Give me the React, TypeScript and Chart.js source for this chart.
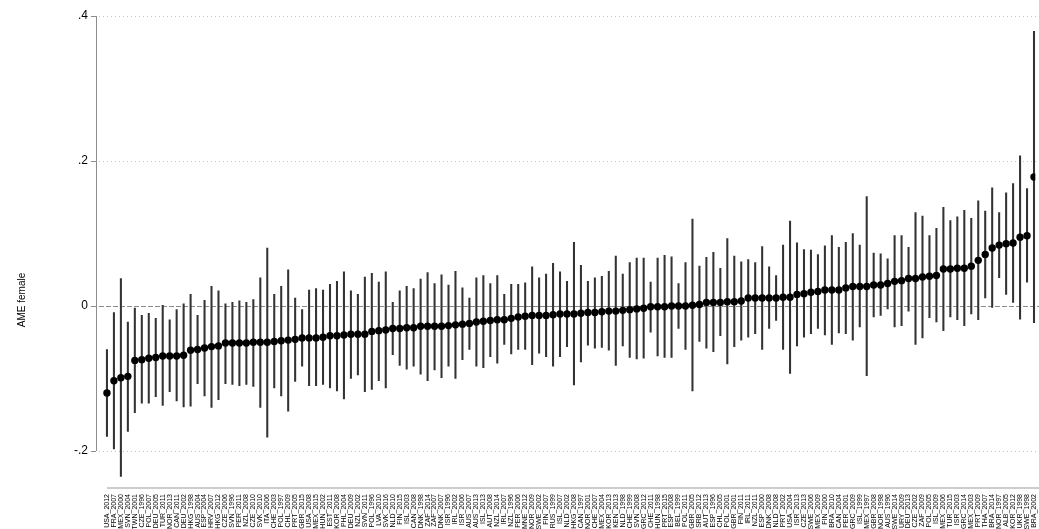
import React, { useEffect, useRef } from 'react';
import { Chart, registerables } from 'chart.js';

Chart.register(...registerables);

const labels: string[] = [
  'USA_2012', 'FRA_2007', 'MEX_2000', 'SVN_2004', 'TWN_2001', 'CZE_1996', 'POL_2007', 'DEU_2005', 'TUR_2011', 'NOR_2013',
  'CAN_2011', 'DEU_2002', 'HKG_1998', 'AUS_2004', 'ESP_2004', 'HRV_2007', 'HKG_2012', 'CZE_2006', 'SVN_1996', 'PER_2011',
  'NZL_2008', 'CZE_2010', 'SVK_2010', 'ITA_2006', 'CHE_2003', 'POL_1997', 'CHL_2009', 'PRT_2005', 'GBR_2015', 'USA_2008',
  'MEX_2015', 'HUN_2002', 'EST_2011', 'KOR_2008', 'PHL_2004', 'DEU_2009', 'NZL_2002', 'SVN_2011', 'POL_1996', 'LVA_2010',
  'SVK_2016', 'NLD_2010', 'FIN_2015', 'ISL_2003', 'CAN_2008', 'DNK_1998', 'ZAF_2014', 'ZAF_2007', 'DNK_2007', 'ISR_1996',
  'IRL_2002', 'ISR_2006', 'AUS_2007', 'AUS_2013', 'ISL_2013', 'AUT_2008', 'NZL_2014', 'IRL_2007', 'NZL_1996', 'PER_2006',
  'MNE_2012', 'NOR_2009', 'SWE_2002', 'FIN_2007', 'RUS_1999', 'ISL_2007', 'NLD_2002', 'HKG_2008', 'CAN_1997', 'NOR_2001',
  'CHE_2007', 'MEX_2004', 'KOR_2013', 'KEN_2013', 'NLD_1998', 'CHE_1999', 'SVN_2008', 'GRC_2012', 'CHE_2011', 'HUN_1998',
  'PRT_2015', 'ESP_2008', 'BEL_1999', 'POL_2011', 'GBR_2005', 'SRB_2012', 'AUT_2013', 'ESP_1996', 'CHL_2005', 'POL_2001',
  'GBR_2001', 'FIN_2011', 'IRL_2011', 'NZL_2011', 'ESP_2000', 'DNK_2008', 'NLD_2008', 'PRT_2002', 'USA_2004', 'ISR_2013',
  'CZE_2013', 'SWE_2006', 'MEX_2009', 'FIN_2000', 'BRA_2010', 'CAN_2004', 'PER_2001', 'GRC_2009', 'ISL_1999', 'MEX_1997',
  'GBR_2008', 'NOR_1998', 'AUS_1996', 'SWE_2014', 'URY_2009', 'DEU_2013', 'CZE_2002', 'ZAF_2009', 'POL_2005', 'ISL_2009',
  'MEX_2006', 'TUR_2015', 'ISR_2003', 'GRC_2014', 'MEX_2003', 'PRT_2009', 'THA_2007', 'BRA_2014', 'NOR_1997', 'ALB_2005',
  'KOR_2012', 'UKR_1998', 'SWE_1998', 'BRA_2002',
];

const est: number[] = [
  -0.120, -0.103, -0.099, -0.097, -0.075, -0.074, -0.072, -0.071, -0.069, -0.069,
  -0.069, -0.068, -0.061, -0.060, -0.058, -0.056, -0.055, -0.051, -0.051, -0.051,
  -0.051, -0.050, -0.050, -0.050, -0.049, -0.048, -0.047, -0.046, -0.044, -0.044,
  -0.044, -0.043, -0.041, -0.041, -0.040, -0.039, -0.039, -0.039, -0.035, -0.034,
  -0.033, -0.031, -0.031, -0.030, -0.030, -0.028, -0.028, -0.028, -0.028, -0.027,
  -0.026, -0.025, -0.024, -0.022, -0.021, -0.020, -0.019, -0.019, -0.017, -0.015,
  -0.014, -0.013, -0.013, -0.013, -0.012, -0.011, -0.011, -0.011, -0.010, -0.009,
  -0.009, -0.008, -0.007, -0.007, -0.006, -0.005, -0.004, -0.003, -0.001, -0.001,
  -0.001, 0.000, 0.000, 0.000, 0.001, 0.002, 0.005, 0.005, 0.005, 0.006,
  0.006, 0.007, 0.011, 0.011, 0.011, 0.011, 0.011, 0.012, 0.012, 0.016,
  0.017, 0.019, 0.020, 0.022, 0.022, 0.022, 0.025, 0.027, 0.027, 0.027,
  0.029, 0.029, 0.031, 0.034, 0.035, 0.038, 0.038, 0.040, 0.041, 0.042,
  0.051, 0.051, 0.052, 0.052, 0.055, 0.063, 0.071, 0.080, 0.084, 0.086,
  0.087, 0.095, 0.097, 0.178,
];

const lo: number[] = [
  -0.180, -0.197, -0.235, -0.173, -0.147, -0.134, -0.134, -0.125, -0.137, -0.118,
  -0.131, -0.139, -0.138, -0.107, -0.124, -0.140, -0.129, -0.107, -0.108, -0.110,
  -0.108, -0.111, -0.140, -0.181, -0.113, -0.124, -0.145, -0.104, -0.083, -0.110,
  -0.110, -0.108, -0.113, -0.117, -0.128, -0.100, -0.095, -0.118, -0.115, -0.103,
  -0.113, -0.067, -0.082, -0.087, -0.083, -0.094, -0.103, -0.088, -0.099, -0.083,
  -0.100, -0.074, -0.060, -0.083, -0.085, -0.070, -0.079, -0.053, -0.066, -0.060,
  -0.060, -0.081, -0.065, -0.070, -0.083, -0.070, -0.056, -0.109, -0.077, -0.054,
  -0.058, -0.057, -0.061, -0.082, -0.055, -0.071, -0.073, -0.072, -0.036, -0.069,
  -0.071, -0.071, -0.031, -0.060, -0.117, -0.049, -0.058, -0.063, -0.041, -0.080,
  -0.056, -0.047, -0.043, -0.038, -0.060, -0.031, -0.020, -0.060, -0.093, -0.055,
  -0.043, -0.038, -0.031, -0.040, -0.053, -0.037, -0.038, -0.047, -0.029, -0.096,
  -0.015, -0.013, -0.004, -0.029, -0.027, -0.007, -0.053, -0.044, -0.016, -0.022,
  -0.034, -0.015, -0.019, -0.027, -0.011, -0.019, 0.011, -0.002, 0.039, 0.016,
  0.005, -0.018, 0.033, -0.023,
];

const hi: number[] = [
  -0.060, -0.009, 0.038, -0.022, -0.003, -0.013, -0.010, -0.017, 0.001, -0.019,
  -0.005, 0.003, 0.016, -0.013, 0.008, 0.027, 0.021, 0.003, 0.005, 0.007,
  0.005, 0.009, 0.039, 0.080, 0.016, 0.027, 0.050, 0.011, -0.005, 0.022,
  0.024, 0.022, 0.030, 0.034, 0.047, 0.021, 0.016, 0.040, 0.045, 0.033,
  0.047, 0.005, 0.021, 0.027, 0.024, 0.037, 0.046, 0.031, 0.043, 0.029,
  0.048, 0.025, 0.011, 0.039, 0.042, 0.031, 0.042, 0.016, 0.030, 0.030,
  0.032, 0.054, 0.039, 0.044, 0.059, 0.047, 0.034, 0.088, 0.056, 0.034,
  0.039, 0.041, 0.048, 0.069, 0.044, 0.060, 0.066, 0.066, 0.033, 0.066,
  0.070, 0.068, 0.031, 0.060, 0.120, 0.055, 0.067, 0.074, 0.052, 0.093,
  0.069, 0.061, 0.064, 0.060, 0.082, 0.054, 0.042, 0.084, 0.117, 0.087,
  0.078, 0.077, 0.071, 0.083, 0.097, 0.081, 0.088, 0.100, 0.084, 0.151,
  0.073, 0.072, 0.065, 0.097, 0.097, 0.081, 0.129, 0.124, 0.097, 0.107,
  0.136, 0.118, 0.123, 0.132, 0.121, 0.145, 0.131, 0.163, 0.129, 0.156,
  0.169, 0.207, 0.162, 0.379,
];

const yTicks: number[] = [-0.2, 0, 0.2, 0.4];
const yTitle = 'AME female';

const FONT = '"Liberation Sans", Arial, Helvetica, sans-serif';

function fmtTick(v: number): string {
  if (v === 0) return '0';
  const s = Math.abs(v).toString().replace(/^0/, '');
  return (v < 0 ? '-' : '') + s;
}

const refLines = {
  id: 'refLines',
  beforeDatasetsDraw(chart: any) {
    const { ctx, chartArea } = chart;
    const x = chart.scales.x;
    const y = chart.scales.y;
    ctx.save();
    ctx.lineWidth = 1;
    yTicks.forEach((t) => {
      const py = Math.round(y.getPixelForValue(t)) + 0.5;
      ctx.beginPath();
      if (t === 0) {
        ctx.setLineDash([5, 2]);
        ctx.strokeStyle = '#8a8a8a';
      } else {
        ctx.setLineDash([1, 3]);
        ctx.strokeStyle = '#c4c4c4';
      }
      ctx.moveTo(chartArea.left + 3, py);
      ctx.lineTo(chart.width, py);
      ctx.stroke();
    });
    ctx.setLineDash([]);
    // y axis line
    ctx.strokeStyle = '#8c8c8c';
    const ax = chartArea.left + 0.5;
    ctx.beginPath();
    ctx.moveTo(ax, y.getPixelForValue(yTicks[yTicks.length - 1]));
    ctx.lineTo(ax, y.getPixelForValue(yTicks[0]));
    ctx.stroke();
    // x axis line
    ctx.strokeStyle = '#bdbdbd';
    ctx.lineWidth = 1.5;
    ctx.beginPath();
    ctx.moveTo(x.getPixelForValue(1), chartArea.bottom);
    ctx.lineTo(chart.width, chartArea.bottom);
    ctx.stroke();
    // y title
    ctx.fillStyle = '#000';
    ctx.font = '10px ' + FONT;
    ctx.translate(22, 300);
    ctx.rotate(-Math.PI / 2);
    ctx.textAlign = 'center';
    ctx.textBaseline = 'middle';
    ctx.fillText(yTitle, 0, 0);
    ctx.restore();
  },
};

export default function App() {
  const ref = useRef<HTMLCanvasElement | null>(null);

  useEffect(() => {
    document.body.style.margin = '0';
    const canvas = ref.current;
    if (!canvas) return;
    const chart = new Chart(canvas, {
      type: 'bar',
      data: {
        datasets: [
          {
            type: 'line',
            data: est.map((v, i) => ({ x: i + 1, y: v })),
            showLine: false,
            pointRadius: 3.7,
            pointHoverRadius: 3.7,
            pointBackgroundColor: '#000',
            pointBorderWidth: 0,
            borderColor: '#000',
            order: 0,
          } as any,
          {
            type: 'bar',
            data: lo.map((l, i) => ({ x: i + 1, y: [l, hi[i]] })),
            backgroundColor: '#333',
            borderWidth: 0,
            barThickness: 1.4,
            order: 1,
          } as any,
        ],
      },
      options: {
        responsive: false,
        animation: false,
        devicePixelRatio: 1,
        layout: { padding: { top: 16, left: 0, right: 0, bottom: 0 } },
        plugins: {
          legend: { display: false },
          tooltip: { enabled: false },
          title: { display: false },
        },
        events: [],
        scales: {
          x: {
            type: 'linear',
            offset: false,
            min: 1 - 11 / 7,
            max: 134 + 1.3 / 7,
            grid: { display: false, drawTicks: false },
            border: { display: false },
            afterBuildTicks: (scale: any) => {
              scale.ticks = labels.map((_, i) => ({ value: i + 1 }));
            },
            afterFit: (scale: any) => {
              scale.height = 41;
              scale.paddingLeft = 0;
              scale.paddingRight = 0;
            },
            ticks: {
              autoSkip: false,
              maxRotation: 90,
              minRotation: 90,
              padding: 6,
              color: '#000',
              font: { size: 7, family: FONT },
              callback: (v: any) => labels[Number(v) - 1] ?? '',
            },
          },
          y: {
            type: 'linear',
            min: -0.251,
            max: 0.4,
            grid: {
              display: true,
              drawOnChartArea: false,
              drawTicks: true,
              tickLength: 5,
              color: '#8c8c8c',
            },
            border: { display: false },
            afterBuildTicks: (scale: any) => {
              scale.ticks = yTicks.map((v) => ({ value: v }));
            },
            afterFit: (scale: any) => {
              scale.width = 96;
              scale.paddingTop = 0;
              scale.paddingBottom = 0;
            },
            ticks: {
              padding: 3,
              color: '#000',
              font: { size: 12, family: FONT },
              callback: (v: any) => fmtTick(Number(v)),
            },
          },
        },
      } as any,
      plugins: [refLines],
    });
    return () => chart.destroy();
  }, []);

  return <canvas ref={ref} width={1039} height={529} style={{ display: 'block' }} />;
}
